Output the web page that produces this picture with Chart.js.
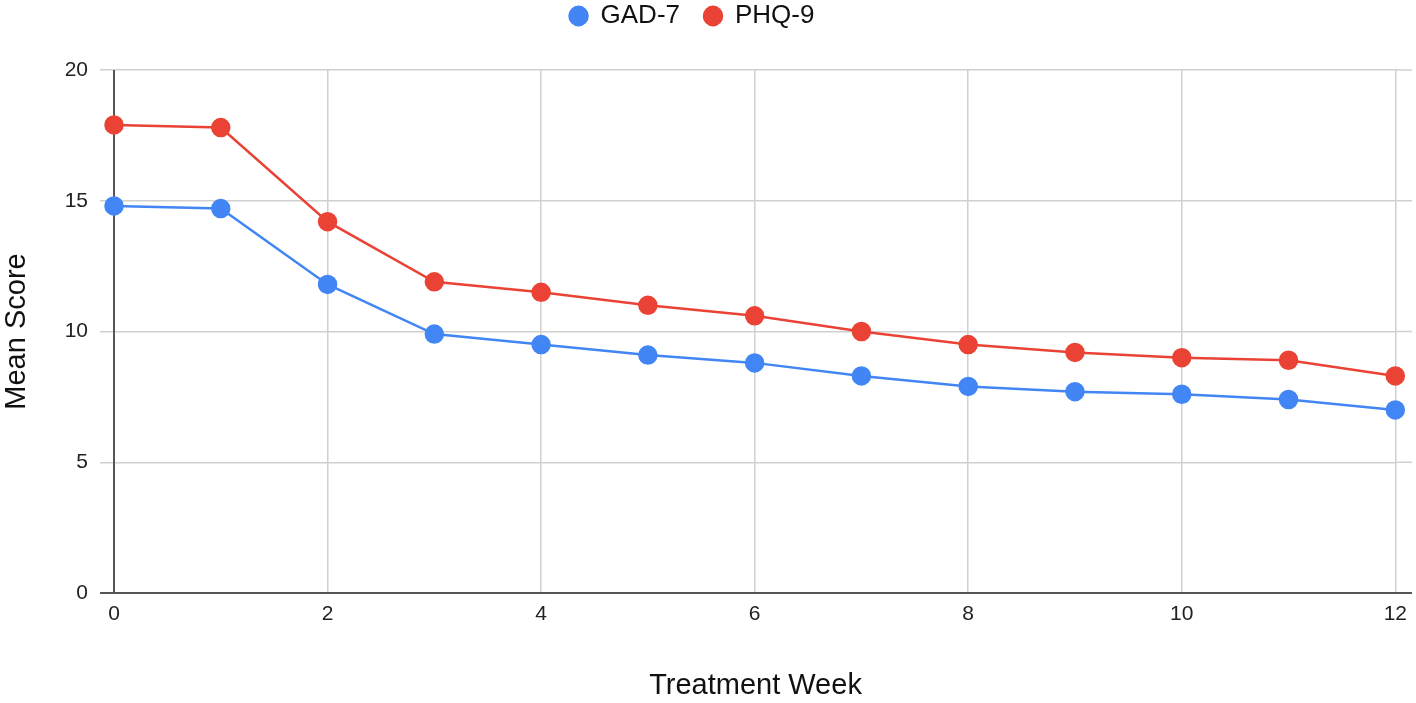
<!DOCTYPE html>
<html><head><meta charset="utf-8">
<script src="https://cdn.jsdelivr.net/npm/chart.js@4/dist/chart.umd.min.js"></script>
<style>html,body{margin:0;padding:0;background:#fff;}#wrap{width:1416px;height:703px;}</style>
</head><body><div id="wrap"><canvas id="c"></canvas></div>
<script>
const weeks = [0,1,2,3,4,5,6,7,8,9,10,11,12];
const gad7 = [14.8,14.7,11.8,9.9,9.5,9.1,8.8,8.3,7.9,7.7,7.6,7.4,7.0];
const phq9 = [17.9,17.8,14.2,11.9,11.5,11.0,10.6,10.0,9.5,9.2,9.0,8.9,8.3];
const xTicks = [0,2,4,6,8,10,12];
const yTicks = [0,5,10,15,20];

const FONT = "'Liberation Sans', Arial, sans-serif";
Chart.defaults.font.family = FONT;
Chart.defaults.color = '#222';

function pts(vals){ return weeks.map((w,i)=>({x:w,y:vals[i]})); }

const LEGEND_TOP = -21;
const CHART_TOP = 70;
const GRID = '#d0d0d0';
const AXIS = '#555';

new Chart(document.getElementById('c'), {
  type: 'line',
  data: {
    datasets: [
      {label:'GAD-7', data: pts(gad7), borderColor:'#4285F4', backgroundColor:'#4285F4', clip:false,
       pointBackgroundColor:'#4285F4', pointBorderColor:'#4285F4', borderWidth:2.5, pointRadius:8.5, pointHoverRadius:8.5, tension:0},
      {label:'PHQ-9', data: pts(phq9), borderColor:'#EA4335', backgroundColor:'#EA4335', clip:false,
       pointBackgroundColor:'#EA4335', pointBorderColor:'#EA4335', borderWidth:2.5, pointRadius:8.5, pointHoverRadius:8.5, tension:0}
    ]
  },
  options: {
    responsive:true, maintainAspectRatio:false, animation:false,
    layout:{padding:{top:LEGEND_TOP,right:0,left:0,bottom:0}},
    plugins:{
      tooltip:{enabled:false},
      legend:{position:'top', labels:{usePointStyle:true, pointStyle:'circle', pointStyleWidth:18, boxWidth:18, boxHeight:13, padding:24, color:'#111', font:{size:26}}}
    },
    scales:{
      x:{type:'linear', min:0, max:12.016,
        afterBuildTicks:(s)=>{ s.ticks = xTicks.map(v=>({value:v})); },
        afterFit:(s)=>{ s.height = 110; },
        ticks:{font:{size:21}, color:'#222', padding:9, maxRotation:0},
        grid:{color:(ctx)=> ctx.tick && ctx.tick.value===0 ? 'rgba(0,0,0,0)' : GRID, lineWidth:1.5, drawTicks:false},
        border:{display:false},
        title:{display:true, text:'Treatment Week', font:{size:29}, color:'#111', padding:{top:30,bottom:0}}
      },
      y:{min:0, max:20,
        afterBuildTicks:(s)=>{ s.ticks = yTicks.map(v=>({value:v})); },
        afterFit:(s)=>{ s.width = 114; s.paddingTop = 0; s.paddingBottom = 0; },
        ticks:{font:{size:21}, color:'#222', padding:12},
        grid:{color:(ctx)=> ctx.tick && ctx.tick.value===0 ? AXIS : GRID,
              tickColor:(ctx)=> ctx.tick && ctx.tick.value===0 ? AXIS : GRID,
              lineWidth:(ctx)=> ctx.tick && ctx.tick.value===0 ? 2 : 1.5, drawTicks:true, tickLength:14},
        border:{display:false},
        title:{display:true, text:'Mean Score', font:{size:29}, color:'#111', padding:{top:0,bottom:8}}
      }
    }
  },
  plugins:[{
    id:'legendHeight',
    beforeInit(chart){
      const fit = chart.legend.fit;
      chart.legend.fit = function(){ fit.call(this); this.height = CHART_TOP - LEGEND_TOP; };
    },
    afterLayout(chart){
      chart.legend.left -= 16; chart.legend.right -= 16;
    }
  },{
    id:'axisLines',
    beforeDatasetsDraw(chart){
      const {ctx, chartArea, scales} = chart;
      const x0 = scales.x.getPixelForValue(0);
      const xEnd = chart.width - 4;
      ctx.save();
      yTicks.forEach(v=>{
        const y = scales.y.getPixelForValue(v);
        ctx.strokeStyle = v===0 ? AXIS : GRID; ctx.lineWidth = v===0 ? 2 : 1.5;
        ctx.beginPath(); ctx.moveTo(chartArea.right, y); ctx.lineTo(xEnd, y); ctx.stroke();
      });
      ctx.strokeStyle=AXIS; ctx.lineWidth=2;
      ctx.beginPath(); ctx.moveTo(x0, chartArea.top); ctx.lineTo(x0, chartArea.bottom); ctx.stroke();
      ctx.restore();
    }
  }]
});
</script></body></html>
